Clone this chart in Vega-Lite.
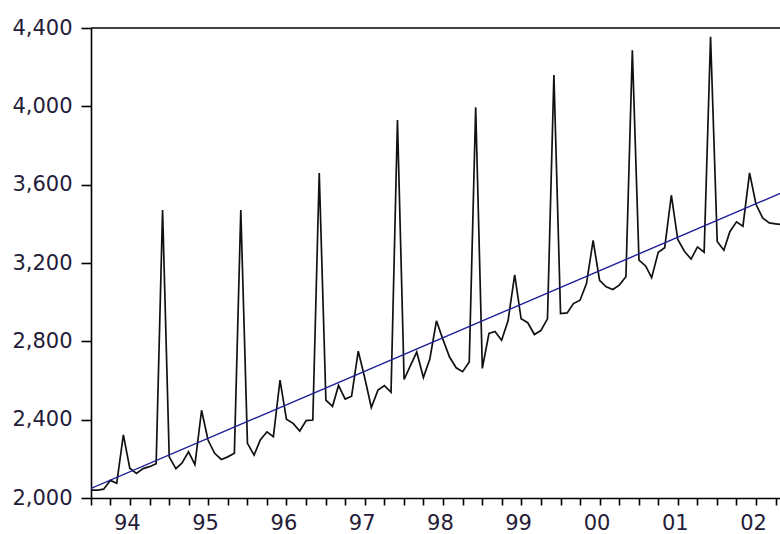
{
  "$schema": "https://vega.github.io/schema/vega-lite/v6.json",
  "autosize": {"type": "none"},
  "padding": {"left": 91, "top": 28, "right": 0, "bottom": 36},
  "width": 689,
  "height": 470,
  "background": "white",
  "config": {"view": {"stroke": null}, "font": "DejaVu Sans"},
  "datasets": {
    "series": [
      {"date": "1994-01-01", "value": 2040}, {"date": "1994-02-01", "value": 2040}, {"date": "1994-03-01", "value": 2045}, {"date": "1994-04-01", "value": 2090},
      {"date": "1994-05-01", "value": 2075}, {"date": "1994-06-01", "value": 2322}, {"date": "1994-07-01", "value": 2152}, {"date": "1994-08-01", "value": 2126},
      {"date": "1994-09-01", "value": 2150}, {"date": "1994-10-01", "value": 2160}, {"date": "1994-11-01", "value": 2175}, {"date": "1994-12-01", "value": 3470},
      {"date": "1995-01-01", "value": 2210}, {"date": "1995-02-01", "value": 2150}, {"date": "1995-03-01", "value": 2178}, {"date": "1995-04-01", "value": 2236},
      {"date": "1995-05-01", "value": 2170}, {"date": "1995-06-01", "value": 2448}, {"date": "1995-07-01", "value": 2296}, {"date": "1995-08-01", "value": 2228},
      {"date": "1995-09-01", "value": 2197}, {"date": "1995-10-01", "value": 2210}, {"date": "1995-11-01", "value": 2228}, {"date": "1995-12-01", "value": 3470},
      {"date": "1996-01-01", "value": 2279}, {"date": "1996-02-01", "value": 2219}, {"date": "1996-03-01", "value": 2296}, {"date": "1996-04-01", "value": 2338},
      {"date": "1996-05-01", "value": 2313}, {"date": "1996-06-01", "value": 2602}, {"date": "1996-07-01", "value": 2402}, {"date": "1996-08-01", "value": 2381},
      {"date": "1996-09-01", "value": 2342}, {"date": "1996-10-01", "value": 2395}, {"date": "1996-11-01", "value": 2398}, {"date": "1996-12-01", "value": 3660},
      {"date": "1997-01-01", "value": 2500}, {"date": "1997-02-01", "value": 2468}, {"date": "1997-03-01", "value": 2575}, {"date": "1997-04-01", "value": 2505},
      {"date": "1997-05-01", "value": 2520}, {"date": "1997-06-01", "value": 2750}, {"date": "1997-07-01", "value": 2615}, {"date": "1997-08-01", "value": 2462},
      {"date": "1997-09-01", "value": 2551}, {"date": "1997-10-01", "value": 2574}, {"date": "1997-11-01", "value": 2540}, {"date": "1997-12-01", "value": 3930},
      {"date": "1998-01-01", "value": 2605}, {"date": "1998-02-01", "value": 2680}, {"date": "1998-03-01", "value": 2745}, {"date": "1998-04-01", "value": 2615},
      {"date": "1998-05-01", "value": 2710}, {"date": "1998-06-01", "value": 2905}, {"date": "1998-07-01", "value": 2810}, {"date": "1998-08-01", "value": 2720},
      {"date": "1998-09-01", "value": 2665}, {"date": "1998-10-01", "value": 2645}, {"date": "1998-11-01", "value": 2695}, {"date": "1998-12-01", "value": 3995},
      {"date": "1999-01-01", "value": 2662}, {"date": "1999-02-01", "value": 2840}, {"date": "1999-03-01", "value": 2850}, {"date": "1999-04-01", "value": 2806},
      {"date": "1999-05-01", "value": 2905}, {"date": "1999-06-01", "value": 3140}, {"date": "1999-07-01", "value": 2915}, {"date": "1999-08-01", "value": 2895},
      {"date": "1999-09-01", "value": 2835}, {"date": "1999-10-01", "value": 2855}, {"date": "1999-11-01", "value": 2915}, {"date": "1999-12-01", "value": 4160},
      {"date": "2000-01-01", "value": 2942}, {"date": "2000-02-01", "value": 2945}, {"date": "2000-03-01", "value": 2993}, {"date": "2000-04-01", "value": 3010},
      {"date": "2000-05-01", "value": 3095}, {"date": "2000-06-01", "value": 3315}, {"date": "2000-07-01", "value": 3112}, {"date": "2000-08-01", "value": 3078},
      {"date": "2000-09-01", "value": 3065}, {"date": "2000-10-01", "value": 3087}, {"date": "2000-11-01", "value": 3130}, {"date": "2000-12-01", "value": 4286},
      {"date": "2001-01-01", "value": 3215}, {"date": "2001-02-01", "value": 3185}, {"date": "2001-03-01", "value": 3125}, {"date": "2001-04-01", "value": 3255},
      {"date": "2001-05-01", "value": 3278}, {"date": "2001-06-01", "value": 3546}, {"date": "2001-07-01", "value": 3320}, {"date": "2001-08-01", "value": 3260},
      {"date": "2001-09-01", "value": 3220}, {"date": "2001-10-01", "value": 3282}, {"date": "2001-11-01", "value": 3255}, {"date": "2001-12-01", "value": 4355},
      {"date": "2002-01-01", "value": 3310}, {"date": "2002-02-01", "value": 3265}, {"date": "2002-03-01", "value": 3360}, {"date": "2002-04-01", "value": 3410},
      {"date": "2002-05-01", "value": 3388}, {"date": "2002-06-01", "value": 3660}, {"date": "2002-07-01", "value": 3500}, {"date": "2002-08-01", "value": 3430},
      {"date": "2002-09-01", "value": 3405}, {"date": "2002-10-01", "value": 3400}, {"date": "2002-11-01", "value": 3395}
    ],
    "trend": [
      {"date": "1994-01-01", "value": 2049},
      {"date": "2002-11-01", "value": 3560}
    ]
  },
  "layer": [
    {
      "data": {"name": "series"},
      "mark": {"type": "line", "color": "#111111", "strokeWidth": 1.7, "clip": true},
      "encoding": {
        "x": {
          "field": "date",
          "type": "temporal",
          "scale": {
            "type": "utc",
            "domain": [
              {"year": 1994, "month": 1, "date": 1, "utc": true},
              {"year": 2002, "month": 10, "date": 21, "utc": true}
            ]
          },
          "axis": {
            "title": null,
            "grid": false,
            "orient": "bottom",
            "tickCount": {"interval": "month", "step": 3},
            "labelExpr": "utcmonth(datum.value) == 6 ? utcFormat(datum.value, '%y') : ''",
            "labelOffset": -3,
            "labelOverlap": false,
            "labelFlush": false,
            "labelBound": false,
            "labelFontSize": 21,
            "labelColor": "#241c38",
            "labelPadding": 7,
            "tickSize": 7,
            "tickWidth": 1.6,
            "tickColor": "#000000",
            "domainColor": "#000000",
            "domainWidth": 1.6
          }
        },
        "y": {
          "field": "value",
          "type": "quantitative",
          "scale": {"domain": [2000, 4400], "nice": false, "zero": false},
          "axis": {
            "title": null,
            "grid": false,
            "values": [2000, 2400, 2800, 3200, 3600, 4000, 4400],
            "format": ",d",
            "labelFontSize": 21,
            "labelColor": "#241c38",
            "labelPadding": 9,
            "tickSize": 10,
            "tickWidth": 1.6,
            "tickColor": "#000000",
            "domainColor": "#000000",
            "domainWidth": 1.6
          }
        }
      }
    },
    {
      "data": {"name": "trend"},
      "mark": {"type": "line", "color": "#1e1e96", "strokeWidth": 1.4, "clip": true},
      "encoding": {
        "x": {"field": "date", "type": "temporal"},
        "y": {"field": "value", "type": "quantitative"}
      }
    },
    {
      "data": {"values": [{}]},
      "mark": {"type": "rule", "color": "#000000", "strokeWidth": 1.6},
      "encoding": {"y": {"datum": 4400}}
    }
  ]
}
